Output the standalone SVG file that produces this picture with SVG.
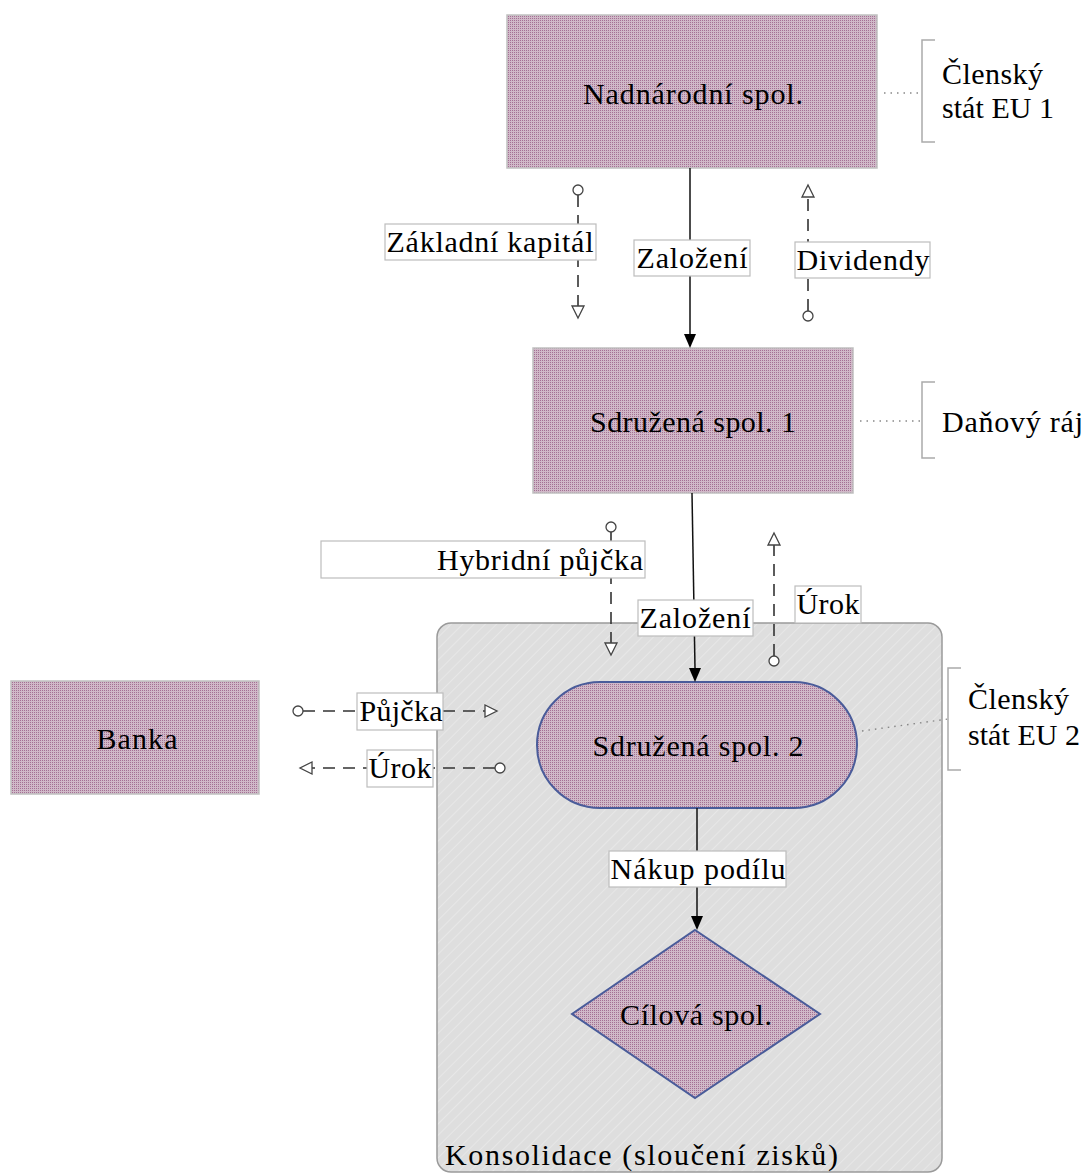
<svg xmlns="http://www.w3.org/2000/svg" width="1089" height="1175" viewBox="0 0 1089 1175">
  <defs>
    <!-- fine dotted mauve fill used by the company shapes -->
    <pattern id="dots" width="2" height="2" patternUnits="userSpaceOnUse">
      <rect width="2" height="2" fill="#d0b9c8"/>
      <rect width="1" height="1" fill="#a47094"/>
    </pattern>
    <!-- faint diagonal hatching of the consolidation group -->
    <pattern id="hatch" width="8" height="8" patternUnits="userSpaceOnUse" patternTransform="rotate(-45)">
      <rect width="8" height="8" fill="#dedede"/>
      <rect width="8" height="1" fill="#e7e7e7"/>
    </pattern>
    <style>
      text { font-family: "Liberation Serif", "Times New Roman", serif; font-size: 30px; fill: #000; }
      .mid { text-anchor: middle; }
      .node { fill: url(#dots); stroke: #c0c0c0; stroke-width: 1.5; }
      .shape { fill: url(#dots); stroke: #4a5c9a; stroke-width: 2; }
      .solid { stroke: #111; stroke-width: 1.5; fill: none; }
      .dash { stroke: #333; stroke-width: 1.6; fill: none; stroke-dasharray: 12 8; }
      .lbl { fill: #fff; stroke: #bdbdbd; stroke-width: 1.2; }
      .dot { stroke: #888; stroke-width: 1.4; stroke-dasharray: 1.5 5; fill: none; }
      .brk { stroke: #aaa; stroke-width: 1.5; fill: none; }
      .end { fill: #fff; stroke: #444; stroke-width: 1.3; }
      .tri { fill: #fff; stroke: #444; stroke-width: 1.3; }
    </style>
  </defs>

  <rect width="1089" height="1175" fill="#fff"/>

  <!-- consolidation group -->
  <g id="konsolidace">
    <rect x="437" y="623" width="505" height="549" rx="14" fill="url(#hatch)" stroke="#9a9a9a" stroke-width="1.5"/>
    <text x="445" y="1165" textLength="393" lengthAdjust="spacing">Konsolidace (sloučení zisků)</text>
  </g>

  <g id="nadnarodni">
    <rect class="node" x="507" y="15" width="370" height="153"/>
    <text class="mid" x="693" y="104" textLength="220" lengthAdjust="spacing">Nadnárodní spol.</text>
  </g>

  <g id="sdruzena1">
    <rect class="node" x="533" y="348" width="320" height="145"/>
    <text class="mid" x="693" y="432" textLength="206" lengthAdjust="spacing">Sdružená spol. 1</text>
  </g>

  <g id="banka">
    <rect class="node" x="11" y="681" width="248" height="113"/>
    <text class="mid" x="137" y="749" textLength="81" lengthAdjust="spacing">Banka</text>
  </g>

  <g id="sdruzena2">
    <rect class="shape" x="537" y="682" width="320" height="126" rx="63"/>
    <text class="mid" x="698" y="756" textLength="211" lengthAdjust="spacing">Sdružená spol. 2</text>
  </g>

  <g id="cilova">
    <polygon class="shape" points="695,930 820,1014 695,1098 572,1014"/>
    <text class="mid" x="696" y="1025" textLength="152" lengthAdjust="spacing">Cílová spol.</text>
  </g>

  <!-- side notes -->
  <g id="eu1">
    <line class="dot" x1="884" y1="93" x2="922" y2="93"/>
    <path class="brk" d="M935,40 H922 V142 H935"/>
    <text x="942" y="84" textLength="101" lengthAdjust="spacing">Členský</text>
    <text x="942" y="118" textLength="112" lengthAdjust="spacing">stát EU 1</text>
  </g>
  <g id="danovy-raj">
    <line class="dot" x1="860" y1="421" x2="922" y2="421"/>
    <path class="brk" d="M935,382 H922 V458 H935"/>
    <text x="942" y="432" textLength="141" lengthAdjust="spacing">Daňový ráj</text>
  </g>
  <g id="eu2">
    <line class="dot" x1="862" y1="731" x2="948" y2="719"/>
    <path class="brk" d="M961,668 H948 V770 H961"/>
    <text x="968" y="709" textLength="101" lengthAdjust="spacing">Členský</text>
    <text x="968" y="745" textLength="112" lengthAdjust="spacing">stát EU 2</text>
  </g>

  <!-- connectors -->
  <g id="connectors">
    <!-- Nadnárodní -> Sdružená 1 -->
    <line class="solid" x1="690" y1="168" x2="690" y2="334"/>
    <path d="M684,334 L696,334 L690,348 Z" fill="#000"/>
    <!-- Základní kapitál (down) -->
    <line class="dash" x1="578" y1="195" x2="578" y2="306"/>
    <circle class="end" cx="578" cy="190" r="5"/>
    <path class="tri" d="M572,306 L584,306 L578,318 Z"/>
    <!-- Dividendy (up) -->
    <line class="dash" x1="808" y1="311" x2="808" y2="197"/>
    <circle class="end" cx="808" cy="316" r="5"/>
    <path class="tri" d="M802,197 L814,197 L808,185 Z"/>
    <!-- Sdružená 1 -> Sdružená 2 -->
    <line class="solid" x1="692" y1="493" x2="695" y2="668"/>
    <path d="M689,668 L701,668 L695,682 Z" fill="#000"/>
    <!-- Hybridní půjčka (down) -->
    <line class="dash" x1="611" y1="532" x2="611" y2="643"/>
    <circle class="end" cx="611" cy="527" r="5"/>
    <path class="tri" d="M605,643 L617,643 L611,655 Z"/>
    <!-- Úrok (up) -->
    <line class="dash" x1="774" y1="656" x2="774" y2="545"/>
    <circle class="end" cx="774" cy="661" r="5"/>
    <path class="tri" d="M768,545 L780,545 L774,533 Z"/>
    <!-- Půjčka (to the right) -->
    <line class="dash" x1="303" y1="711" x2="485" y2="711"/>
    <circle class="end" cx="298" cy="711" r="5"/>
    <path class="tri" d="M485,705 L485,717 L497,711 Z"/>
    <!-- Úrok (to the left) -->
    <line class="dash" x1="495" y1="768" x2="312" y2="768"/>
    <circle class="end" cx="500" cy="768" r="5"/>
    <path class="tri" d="M312,762 L312,774 L300,768 Z"/>
    <!-- Sdružená 2 -> Cílová -->
    <line class="solid" x1="697" y1="808" x2="697" y2="916"/>
    <path d="M691,916 L703,916 L697,930 Z" fill="#000"/>

    <!-- connector labels -->
    <rect class="lbl" x="385" y="224" width="211" height="36"/>
    <text class="mid" x="490" y="252" textLength="207" lengthAdjust="spacing">Základní kapitál</text>
    <rect class="lbl" x="634" y="240" width="116" height="36"/>
    <text class="mid" x="692" y="268" textLength="111" lengthAdjust="spacing">Založení</text>
    <rect class="lbl" x="795" y="242" width="135" height="36"/>
    <text class="mid" x="863" y="270" textLength="133" lengthAdjust="spacing">Dividendy</text>
    <rect class="lbl" x="321" y="541" width="324" height="37"/>
    <text x="643" y="570" text-anchor="end" textLength="206" lengthAdjust="spacing">Hybridní půjčka</text>
    <rect class="lbl" x="638" y="600" width="115" height="36"/>
    <text class="mid" x="695" y="628" textLength="111" lengthAdjust="spacing">Založení</text>
    <rect class="lbl" x="795" y="586" width="66" height="37"/>
    <text class="mid" x="828" y="614" textLength="63" lengthAdjust="spacing">Úrok</text>
    <rect class="lbl" x="357" y="693" width="86" height="37"/>
    <text class="mid" x="401" y="721" textLength="83" lengthAdjust="spacing">Půjčka</text>
    <rect class="lbl" x="367" y="750" width="66" height="37"/>
    <text class="mid" x="400" y="778" textLength="63" lengthAdjust="spacing">Úrok</text>
    <rect class="lbl" x="609" y="851" width="177" height="36"/>
    <text class="mid" x="698" y="879" textLength="175" lengthAdjust="spacing">Nákup podílu</text>
  </g>
</svg>
